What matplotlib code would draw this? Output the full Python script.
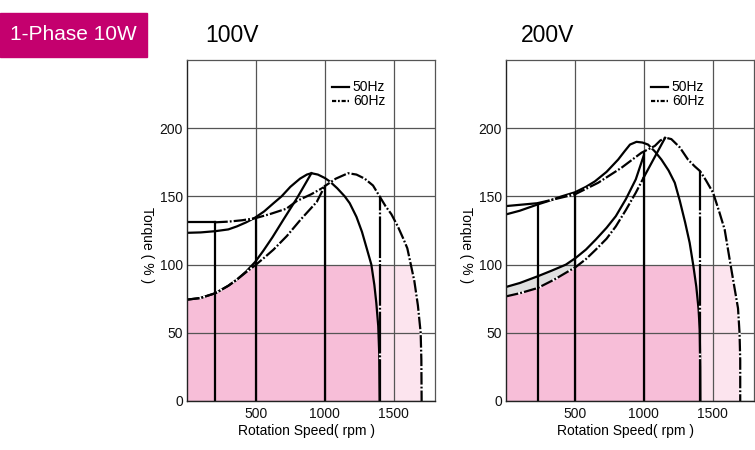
import numpy as np
import matplotlib.pyplot as plt
from matplotlib.lines import Line2D
from matplotlib.patches import Rectangle

plt.rcParams['font.family'] = ['Liberation Sans', 'DejaVu Sans']
plt.rcParams['lines.scale_dashes'] = False

# ---- 100V ----
v100_up50_x = [0, 100, 205, 300, 362, 430, 495, 560, 628, 686, 750, 820, 870, 903, 950, 1000, 1036, 1090,
               1145, 1181, 1230, 1270, 1307, 1338, 1360, 1374, 1388, 1395, 1398]
v100_up50_y = [123.3, 123.6, 124.5, 125.8, 128, 131, 134.5, 139, 145, 150, 157, 163, 166, 167, 166, 163.5, 161, 156,
               150, 145, 135, 124, 111, 100, 85, 72, 55, 35, 0]
v100_up60_x = [0, 205, 300, 400, 495, 601, 722, 795, 900, 988, 1000, 1080, 1169, 1230, 1290, 1350, 1398, 1440,
               1483, 1530, 1570, 1599, 1616, 1650, 1676, 1696, 1701, 1703]
v100_up60_y = [131, 131, 131.5, 132.5, 134, 137, 141, 146.5, 151.5, 156.4, 157.5, 163, 167, 166, 163, 158, 150, 143,
               137, 128, 119, 112, 104, 88, 70, 50, 30, 0]
v100_low50_x = [0, 97, 205, 300, 362, 430, 495, 553, 620, 700, 800, 903]
v100_low50_y = [74.3, 75.5, 79, 84.5, 89, 95, 102, 110, 120, 133, 149, 167]
v100_low60_x = [0, 97, 205, 300, 362, 430, 495, 560, 628, 725, 825, 942, 1000]
v100_low60_y = [74.3, 75.5, 79, 84.5, 89, 94.5, 99.5, 105, 111, 121, 133, 146, 157.5]
v100_vert_x = [205, 500, 1000]
v100_vert_top = [131, 134, 157.5]
v100_sync_x = 1403
v100_sync_top = 150

# ---- 200V ----
v200_up50_x = [0, 100, 227, 320, 403, 500, 580, 645, 730, 814, 860, 900, 947, 990, 1031, 1080, 1128, 1180,
               1225, 1261, 1300, 1333, 1360, 1381, 1398, 1406, 1410, 1411]
v200_up50_y = [136.8, 139.5, 144, 147, 150, 153, 157, 161, 168, 177, 183, 188, 190, 189.5, 188, 183, 177, 169,
               160, 147, 131, 116, 99, 84, 67, 52, 25, 0]
v200_up60_x = [0, 227, 355, 500, 669, 838, 983, 1080, 1120, 1160, 1200, 1261, 1321, 1370, 1408, 1450, 1503,
               1550, 1587, 1623, 1650, 1684, 1695, 1700, 1700]
v200_up60_y = [142.9, 145, 148, 151.5, 160, 171, 182, 187, 191, 193, 192, 186, 177, 172, 168.6, 162, 152.7,
               138, 125.7, 104, 88, 68, 50, 30, 0]
v200_low50_x = [0, 100, 229, 330, 435, 507, 580, 652, 730, 797, 870, 942, 1000]
v200_low50_y = [83.6, 86.5, 91.4, 95.5, 100, 105, 111, 118.4, 127, 135.5, 148, 162.5, 180]
v200_low60_x = [0, 100, 229, 350, 507, 580, 652, 730, 797, 870, 942, 1000]
v200_low60_y = [76.7, 79, 82.8, 89, 98.3, 104, 111, 119, 128, 140, 152.7, 164]
v200_link_x = [1000, 1155]
v200_link_y = [164, 193]
v200_vert_x = [229, 500, 1000]
v200_vert_top = [144, 152, 182]
v200_sync_x = 1411
v200_sync_top = 168.6

x_ticks = [500, 1000, 1500]
y_ticks = [0, 50, 100, 150, 200]

DASHDOT = (0, (9, 1.5, 1.3, 1.5))
LW = 1.6
PINK = '#f7bed8'
LIGHT_PINK = '#fce4ee'


def draw_panel(ax, up50, up60, low50, low60, vert_x, vert_top, sync_x, sync_top, link=None, band=False):
    up50_x, up50_y = np.array(up50[0]), np.array(up50[1])
    up60_x, up60_y = np.array(up60[0]), np.array(up60[1])
    clip = Rectangle((0, 0), 1800, 100, transform=ax.transData)

    # continuous duty area (below 100 %)
    p50 = np.argmax(up50_y)
    p60 = np.argmax(up60_y)
    dark = [(0, 0)] + list(zip(low50[0], low50[1])) + list(zip(up50_x[p50:], up50_y[p50:]))
    poly = ax.fill(*zip(*dark), color=PINK, lw=0, zorder=0.5)[0]
    poly.set_clip_path(clip)
    light = list(zip(up60_x[p60:], up60_y[p60:])) + list(zip(up50_x[p50:][::-1], up50_y[p50:][::-1]))
    poly = ax.fill(*zip(*light), color=LIGHT_PINK, lw=0, zorder=0.5)[0]
    poly.set_clip_path(clip)

    if band:
        bx = np.array([x for x in low50[0] if x <= 510])
        ax.fill_between(bx, np.interp(bx, low60[0], low60[1]), np.interp(bx, low50[0], low50[1]),
                        color='#e0e0e0', lw=0, zorder=0.6)

    # curves
    ax.plot(up50_x, up50_y, 'k', lw=LW)
    ax.plot(low50[0], low50[1], 'k', lw=LW)
    ax.plot(up60_x[:2], up60_y[:2], 'k', lw=LW)
    ax.plot(up60_x[1:], up60_y[1:], 'k', lw=LW, ls=DASHDOT, gapcolor='white')
    ax.plot(low60[0], low60[1], 'k', lw=LW, ls=DASHDOT, gapcolor='white')
    if link is not None:
        ax.plot(link[0], link[1], 'k', lw=LW)

    for x, top in zip(vert_x, vert_top):
        ax.plot([x, x], [0, top], 'k', lw=LW)
    ax.plot([sync_x, sync_x], [0, sync_top], 'k', lw=LW, ls=(0, (30, 1.5, 1.3, 1.5)), gapcolor='white')

    ax.set_xlim(0, 1800)
    ax.set_ylim(0, 250)
    ax.set_xticks(x_ticks)
    ax.set_yticks(y_ticks)
    ax.grid(True, color='#555555', lw=0.9)
    ax.tick_params(length=0, labelsize=10, colors='#111111')
    ax.tick_params(axis='x', pad=4)
    ax.tick_params(axis='y', pad=3)
    for side in ['top', 'right']:
        ax.spines[side].set_color('#555555')
        ax.spines[side].set_linewidth(0.9)
    for side in ['left', 'bottom']:
        ax.spines[side].set_color('#222222')
        ax.spines[side].set_linewidth(1.0)

    ax.set_xlabel('Rotation Speed( rpm )', fontsize=10)
    ax.xaxis.set_label_coords(0.48, -0.067)
    ax.set_ylabel('Torque ( % )', fontsize=10, rotation=-90, va='center')
    ax.yaxis.set_label_coords(-0.163, 0.457)

    handles = [Line2D([], [], color='k', lw=LW),
               Line2D([], [], color='k', lw=LW, ls=(0, (3, 1.3, 1.3, 1.3)))]
    ax.legend(handles, ['50Hz', '60Hz'], loc='upper left', bbox_to_anchor=(0.585, 0.94), frameon=False,
              fontsize=10, handlelength=1.2, handletextpad=0.3, labelspacing=0, borderpad=0,
              borderaxespad=0)


fig = plt.figure(figsize=(7.55, 4.5), dpi=100)
ax1 = fig.add_axes([187 / 755, 49 / 450, 248 / 755, 341 / 450])
ax2 = fig.add_axes([506 / 755, 49 / 450, 248 / 755, 341 / 450])

draw_panel(ax1, (v100_up50_x, v100_up50_y), (v100_up60_x, v100_up60_y), (v100_low50_x, v100_low50_y),
           (v100_low60_x, v100_low60_y), v100_vert_x, v100_vert_top, v100_sync_x, v100_sync_top)
draw_panel(ax2, (v200_up50_x, v200_up50_y), (v200_up60_x, v200_up60_y), (v200_low50_x, v200_low50_y),
           (v200_low60_x, v200_low60_y), v200_vert_x, v200_vert_top, v200_sync_x, v200_sync_top,
           link=(v200_link_x, v200_link_y), band=True)

fig.text(232 / 755, 1 - 35 / 450, '100V', fontsize=16.5, ha='center', va='center')
fig.text(548 / 755, 1 - 35 / 450, '200V', fontsize=16.5, ha='center', va='center')

fig.patches.append(Rectangle((0, 1 - 57 / 450), 147 / 755, 44 / 450, transform=fig.transFigure,
                             color='#c4006e', zorder=0))
fig.text(73 / 755, 1 - 35 / 450, '1-Phase 10W', color='white', fontsize=15, ha='center', va='center')

fig.savefig('out.png', dpi=100)
